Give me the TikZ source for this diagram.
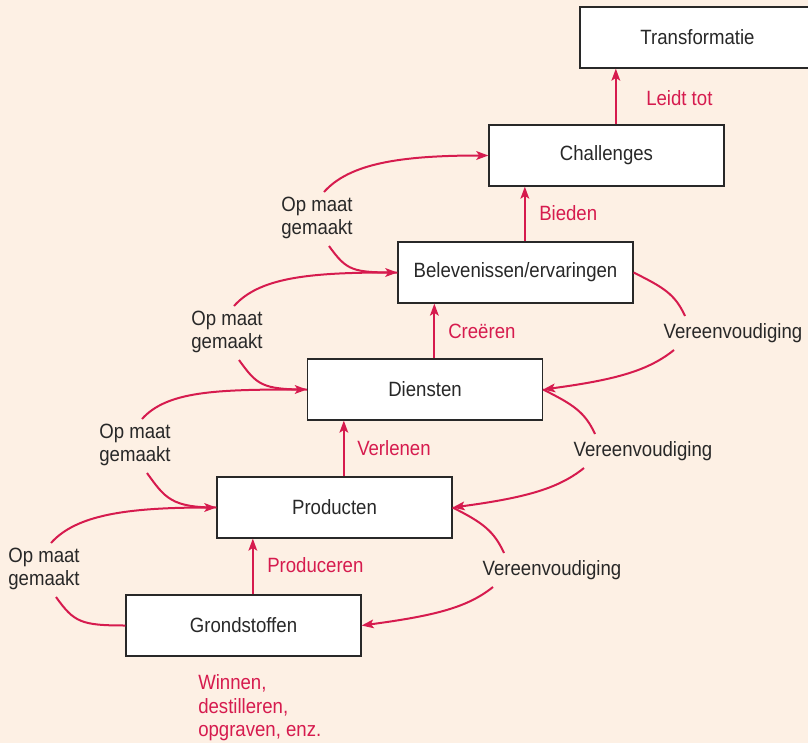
\documentclass[tikz,border=0pt]{standalone}
\usepackage{fontspec}
\setmainfont{Liberation Sans}[FakeStretch=0.9]
\usetikzlibrary{arrows.meta,calc}
\definecolor{pagebg}{RGB}{253,240,228}
\definecolor{econred}{RGB}{214,27,78}
\definecolor{inkgray}{RGB}{40,40,40}

\begin{document}
\begin{tikzpicture}[x=0.75pt,y=-0.75pt,
  font=\fontsize{15.5}{17.6}\selectfont,
  box/.style={draw=inkgray,line width=0.9pt,fill=white,text=inkgray,
    minimum width=176.25pt,minimum height=45.75pt,inner sep=0pt},
  arr/.style={-{Stealth[length=9pt,width=6.5pt,inset=2pt]},econred,line width=1.5pt},
  redline/.style={econred,line width=1.5pt},
  lbl/.style={text=inkgray,align=left,inner sep=0pt},
  act/.style={text=econred,inner sep=0pt,anchor=base west}]

% page: 808 x 743 px, y runs downwards
\fill[pagebg] (0,0) rectangle (808,743);
\useasboundingbox (0,0) rectangle (808,743);

% ---- the staircase of offerings ----
\node[box] (grond)  at (243.5,625.5) {Grondstoffen};
\node[box] (prod)   at (334.5,507.5) {Producten};
\node[box] (dienst) at (425,389.5)   {Diensten};
\node[box] (belev)  at (515.5,272.5) {Belevenissen/ervaringen};
\node[box] (chall)  at (606.5,155.5) {Challenges};
\node[box] (transf) at (697.5,37.5)  {Transformatie};

% ---- upward steps ----
\foreach \a/\b in {grond/prod,prod/dienst,dienst/belev,belev/chall,chall/transf}
  \draw[arr] ([xshift=7pt]\a.north) coordinate (up\a) -- (up\a |- \b.south);
\node[act] (produceren) at (267,572) {Produceren};
\node[act] (verlenen)   at (357,455) {Verlenen};
\node[act] (creeren)    at (448,338) {Creëren};
\node[act] (bieden)     at (539,220) {Bieden};
\node[act] (leidttot)   at (646,105) {Leidt tot};
\node[act,anchor=north west,align=left] (winnen) at (198,674.5)
  {Winnen,\\destilleren,\\opgraven, enz.};

% ---- left loops: customisation ----
\node[lbl] (opmaat1) at (44,569)  {Op maat\\gemaakt};
\node[lbl] (opmaat2) at (135,445) {Op maat\\gemaakt};
\node[lbl] (opmaat3) at (227,332) {Op maat\\gemaakt};
\node[lbl] (opmaat4) at (317,218) {Op maat\\gemaakt};
\foreach \lo/\lb/\hi in {grond/opmaat1/prod,prod/opmaat2/dienst,
    dienst/opmaat3/belev,belev/opmaat4/chall}{
  \draw[redline] (\lo.west) .. controls +(-45,0) and +(18,25)
    .. ($(\lb)+(12,28)$);
  \draw[arr] ($(\lb)+(7,-26)$) .. controls +(25,-28) and +(-90,0)
    .. (\hi.west);
}

% ---- right loops: commoditisation ----
\node[lbl] (vereen1) at (733,333) {Vereenvoudiging};
\node[lbl] (vereen2) at (643,451) {Vereenvoudiging};
\node[lbl] (vereen3) at (552,570) {Vereenvoudiging};
\foreach \hi/\lb/\lo in {belev/vereen1/dienst,dienst/vereen2/prod,
    prod/vereen3/grond}{
  \draw[redline] (\hi.east) .. controls +(30,15) and +(-10,-22)
    .. ($(\lb)+(-48,-17)$);
  \draw[arr] ($(\lb)+(-59,17)$) .. controls +(-25,20) and +(75,-10)
    .. (\lo.east);
}
\end{tikzpicture}
\end{document}
